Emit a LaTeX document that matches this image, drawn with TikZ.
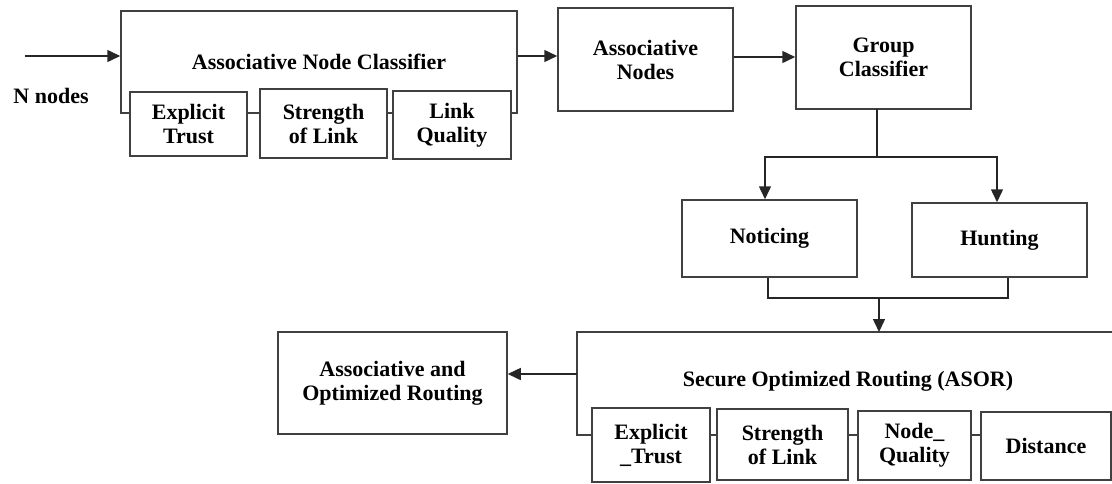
\documentclass[tikz,border=0pt]{standalone}
\usepackage{fontspec}
\setmainfont{Liberation Serif}
\usetikzlibrary{arrows.meta}
\begin{document}
\begin{tikzpicture}[x=1pt,y=-1pt,
  box/.style={draw=black!75,line width=1.5pt,fill=white,rectangle,inner sep=0pt,align=center,
    font=\fontsize{22}{24}\selectfont\bfseries},
  lbl/.style={inner sep=0pt,align=center,font=\fontsize{22}{24}\selectfont\bfseries},
  wire/.style={draw=black!85,line width=1.5pt},
  arr/.style={wire,-{Triangle[length=13pt,width=12pt]}}]
\useasboundingbox (0,0) rectangle (1112,483);
% Associative Node Classifier
\node[box,minimum width=396pt,minimum height=102pt] (anc) at (319,62) {Associative Node Classifier};
\node[box,minimum width=117pt,minimum height=64pt] (et) at (188.5,124) {Explicit\\Trust};
\node[box,minimum width=127pt,minimum height=69pt] (sol) at (323.5,123.5) {Strength\\of Link};
\node[box,minimum width=118pt,minimum height=68pt] (lq) at (452,125) {Link\\Quality};
\coordinate (nin) at (25,56);
\node[lbl] (nn) at (51,96) {N nodes};
\draw[arr] (nin) -- (nin -| anc.west);
% Associative nodes, group classifier
\node[box,minimum width=175pt,minimum height=103pt] (an) at (645.5,59.5) {Associative\\Nodes};
\node[box,minimum width=175pt,minimum height=103pt] (gc) at (883.5,57.5) {Group\\Classifier};
\draw[arr] (anc.east |- 0,56) -- (an.west |- 0,56);
\draw[arr] (an.east |- 0,57) -- (gc.west |- 0,57);
% branches
\node[box,minimum width=175pt,minimum height=77pt] (no) at (769.5,238.5) {Noticing};
\node[box,minimum width=175pt,minimum height=74pt] (hu) at (999.5,240) {Hunting};
\coordinate (gcs) at (877,109);
\coordinate (sp) at (877,157);
\draw[wire] (gcs) -- (sp);
\draw[arr] (sp) -| (765,0 |- no.north);
\draw[arr] (sp) -| (997,0 |- hu.north);
\coordinate (mg) at (879,298);
\draw[wire] (768,0 |- no.south) |- (mg) -| (1008,0 |- hu.south);
% ASOR
\coordinate (asw) at (577,374);
\coordinate (astop) at (879,332);
\draw[draw=black!75,line width=1.5pt] (1114,332) -- (577,332) -- (577,435) -- (1114,435);
\node[lbl] (asor) at (848,381) {Secure Optimized Routing (ASOR)};
\draw[arr] (mg) -- (astop);
\node[box,minimum width=118pt,minimum height=74pt] (et2) at (651,445) {Explicit\\\_Trust};
\node[box,minimum width=131pt,minimum height=71pt] (sol2) at (782.5,444.5) {Strength\\of Link};
\node[box,minimum width=113pt,minimum height=69pt] (nq) at (914.5,445.5) {Node\_\\Quality};
\node[box,minimum width=130pt,minimum height=68pt] (dist) at (1046,446) {Distance};
% output
\node[box,minimum width=229pt,minimum height=102pt] (aor) at (392.5,383) {Associative and\\Optimized Routing};
\draw[arr] (asw) -- (aor.east |- asw);
\end{tikzpicture}
\end{document}
